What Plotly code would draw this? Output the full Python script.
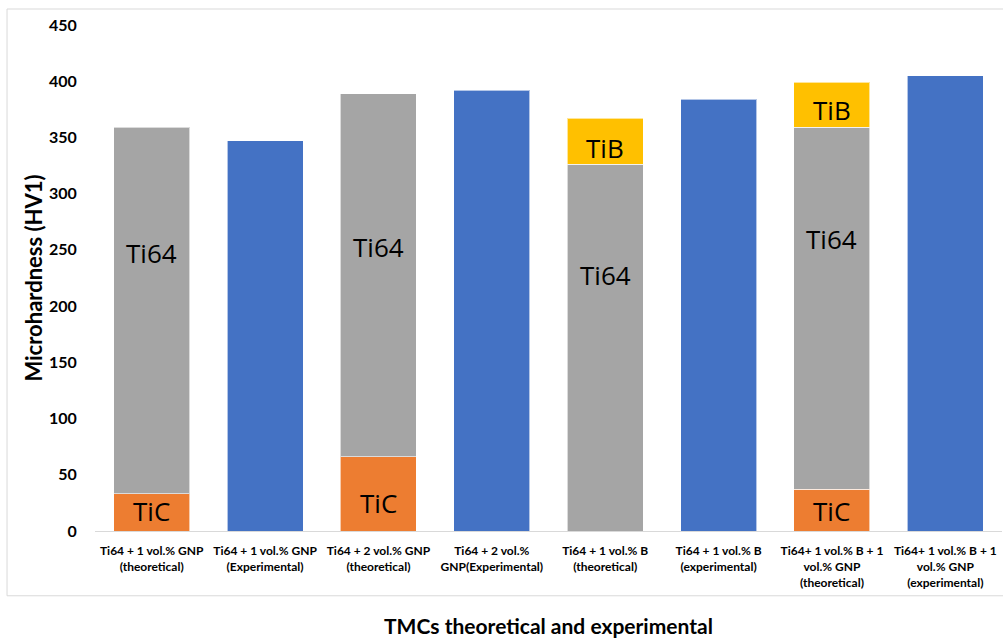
import plotly.graph_objects as go

categories = [
    "Ti64 + 1 vol.% GNP<br>(theoretical)",
    "Ti64 + 1 vol.% GNP<br>(Experimental)",
    "Ti64 + 2 vol.% GNP<br>(theoretical)",
    "Ti64 + 2 vol.%<br>GNP(Experimental)",
    "Ti64 + 1 vol.% B<br>(theoretical)",
    "Ti64 + 1 vol.% B<br>(experimental)",
    "Ti64+ 1 vol.% B + 1<br>vol.% GNP<br>(theoretical)",
    "Ti64+ 1 vol.% B + 1<br>vol.% GNP<br>(experimental)",
]
tic = [33, None, 66, None, None, None, 37, None]
ti64 = [326, None, 323, None, 326, None, 322, None]
tib = [None, None, None, None, 41, None, 40, None]
experimental = [None, 347, None, 392, None, 384, None, 405]

# in-bar label positions (value units)
label_text = ["Ti64", "TiC", "Ti64", "TiC", "TiB", "Ti64", "TiB", "Ti64", "TiC"]
label_cat = [0, 0, 2, 2, 4, 4, 6, 6, 6]
label_y = [247, 18, 253, 25, 341, 228, 374, 260, 18]

FONT = "Lato"
fig = go.Figure()
line = dict(color="rgba(255,255,255,0.6)", width=1)
fig.add_bar(x=categories, y=tic, name="TiC", marker=dict(color="#ED7D31", line=line))
fig.add_bar(x=categories, y=ti64, name="Ti64", marker=dict(color="#A5A5A5", line=line))
fig.add_bar(x=categories, y=tib, name="TiB", marker=dict(color="#FFC000", line=line))
fig.add_bar(x=categories, y=experimental, name="Experimental", marker=dict(color="#4472C4", line=line))

for t, c, y in zip(label_text, label_cat, label_y):
    fig.add_annotation(x=categories[c], y=y, text=t, showarrow=False,
                       font=dict(family="Open Sans", size=26, color="#000000"))

fig.add_shape(type="rect", xref="paper", yref="paper", x0=-0.097, x1=1.05,
              y0=-0.128, y1=1.0316, line=dict(color="#D9D9D9", width=1), layer="below")

fig.add_annotation(xref="paper", yref="paper", x=0.5, y=-0.186, yanchor="middle",
                   text="<b>TMCs theoretical and experimental</b>", showarrow=False,
                   font=dict(family=FONT, size=21, color="#000000"))

fig.update_layout(
    barmode="stack",
    bargap=0.33,
    width=1003, height=639,
    margin=dict(l=95, r=1, t=25, b=108),
    paper_bgcolor="white", plot_bgcolor="white",
    showlegend=False,
    font=dict(family=FONT, color="#000000"),
    xaxis=dict(showline=True, linecolor="#D9D9D9", linewidth=1, ticks="",
               automargin=False, ticklabelstandoff=9,
               tickfont=dict(family=FONT, size=12, color="#000000", weight="bold"),
               tickangle=0),
    yaxis=dict(range=[0, 450], dtick=50, showgrid=False, zeroline=False,
               automargin=False, showline=False,
               ticks="outside", ticklen=14, tickcolor="rgba(255,255,255,0)",
               tickfont=dict(family=FONT, size=16, color="#000000", weight="bold"),
               title=dict(text="<b>Microhardness (HV1)</b>", standoff=0,
                          font=dict(family=FONT, size=22, color="#000000"))),
)

fig.write_html("out.html", config={"displayModeBar": False},
               post_script="document.body.style.margin='0px';")
